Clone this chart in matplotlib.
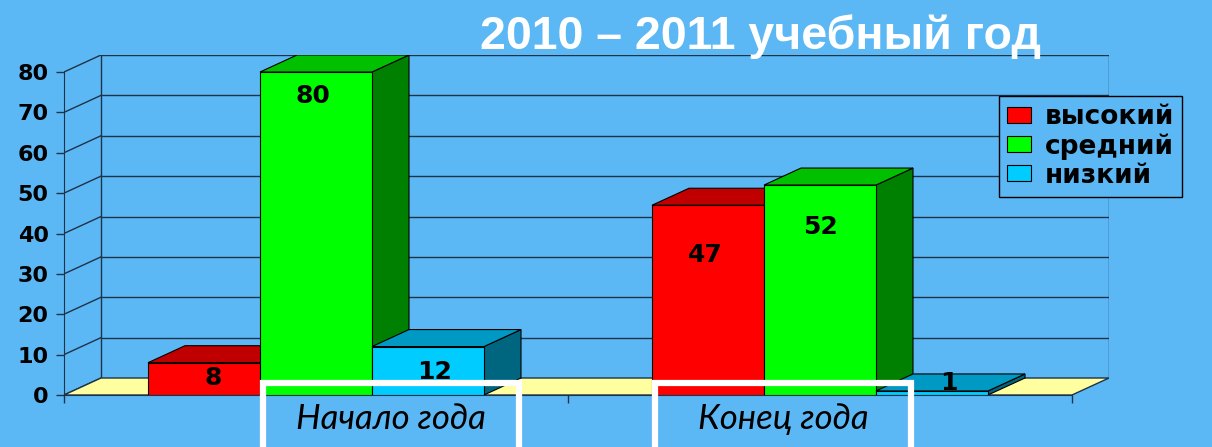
import matplotlib
matplotlib.use('Agg')
import matplotlib.pyplot as plt
from matplotlib.patches import Polygon, Rectangle, Patch

# ---- data ----
categories = ['Начало года', 'Конец года']
series_names = ['высокий', 'средний', 'низкий']
high = [8, 47]
mid = [80, 52]
low = [12, 1]
yticks = [0, 10, 20, 30, 40, 50, 60, 70, 80]
title = '2010 – 2011 учебный год'

# ---- style ----
W, H = 1212, 447
BG = '#5CB8F4'
GRID = '#1E3248'
front_cols = ['#FF0000', '#00FF00', '#00CCFF']
top_cols = ['#C00000', '#00C000', '#0099C4']
side_cols = ['#800000', '#008000', '#00667F']
DX = 37 / 504.0          # depth offset in x (category units)
DY = 17 / 4.0375         # depth offset in y (value units)
BAR_W = 112 / 504.0
# label placement (style): vertical offset below bar top and horizontal shift
label_dy = [[3.8, 12.3], [6.0, 10.4], [6.3, -2.0]]
label_dx = [[0.018, -0.006], [-0.006, 0.0], [0.014, 0.034]]
box_x = [(0.395, 0.903), (1.173, 1.681)]

fig = plt.figure(figsize=(W / 100, H / 100), dpi=100)
fig.patch.set_facecolor(BG)
ax = fig.add_axes([64 / W, 1 - 395 / H, (1109 - 64) / W, (395 - 55) / H])
ax.set_facecolor('none')
ymax = max(yticks)
ax.set_xlim(0, len(categories) + DX)
ax.set_ylim(0, ymax + DY)

ncat = len(categories)
# back wall + side wall grid
for v in yticks[1:]:
    ax.plot([DX, ncat + DX], [v + DY, v + DY], color=GRID, lw=1, zorder=1)
for v in yticks:
    ax.plot([0, DX], [v, v + DY], color=GRID, lw=1, zorder=1)
ax.plot([DX, DX], [DY, ymax + DY], color=GRID, lw=1, zorder=1)
ax.plot([ncat + DX, ncat + DX], [DY, ymax + DY], color=GRID, lw=1, zorder=1)

# floor
ax.add_patch(Polygon([(0, 0), (ncat, 0), (ncat + DX, DY), (DX, DY)],
                     closed=True, facecolor='#FFFFA0', edgecolor=GRID, lw=1, zorder=1.5))

# bars
values = [high, mid, low]
z = 2
for ci in range(ncat):
    center = ci + 0.5
    for si, vals in enumerate(values):
        h = vals[ci]
        x0 = center + (si - 1.5) * BAR_W
        x1 = x0 + BAR_W
        ax.add_patch(Polygon([(x1, 0), (x1 + DX, DY), (x1 + DX, h + DY), (x1, h)],
                             closed=True, facecolor=side_cols[si], edgecolor='black', lw=0.8, zorder=z))
        ax.add_patch(Polygon([(x0, h), (x1, h), (x1 + DX, h + DY), (x0 + DX, h + DY)],
                             closed=True, facecolor=top_cols[si], edgecolor='black', lw=0.8, zorder=z))
        ax.add_patch(Polygon([(x0, 0), (x1, 0), (x1, h), (x0, h)],
                             closed=True, facecolor=front_cols[si], edgecolor='black', lw=0.8, zorder=z))
        ax.text((x0 + x1) / 2 + label_dx[si][ci], h - label_dy[si][ci], str(h),
                ha='center', va='center', fontsize=18, fontweight='bold',
                family='DejaVu Sans', color='black', zorder=z + 0.5)
        z += 1

# axes spines / ticks
for s in ['top', 'right']:
    ax.spines[s].set_visible(False)
ax.spines['left'].set_bounds(0, ymax)
ax.spines['bottom'].set_bounds(0, ncat)
ax.spines['left'].set_color(GRID)
ax.spines['bottom'].set_color(GRID)
ax.spines['left'].set_zorder(50)
ax.set_yticks(yticks)
ax.set_yticklabels([str(t) for t in yticks], fontsize=16, fontweight='bold', family='DejaVu Sans')
ax.set_xticks(range(ncat + 1))
ax.set_xticklabels([''] * (ncat + 1))
ax.tick_params(axis='y', length=6, width=1, color=GRID, pad=5)
ax.tick_params(axis='x', length=6, width=1, color=GRID)

# category labels in white boxes
for ci, cat in enumerate(categories):
    bx0, bx1 = box_x[ci]
    ax.add_patch(Rectangle((bx0, -20), bx1 - bx0, 23.0, facecolor='none', edgecolor='white',
                           lw=4.5, clip_on=False, zorder=80))
    ax.text((bx0 + bx1) / 2, -5.9, cat, ha='center', va='center', fontsize=25,
            style='italic', family='Lato', color='black', clip_on=False, zorder=81)

# title
fig.text(760 / W, 1 - 37 / H, title, ha='center', va='center', fontsize=33.5,
         fontweight='bold', family='Liberation Sans', color='white')

# legend
handles = [Patch(facecolor=c, edgecolor='black', lw=0.8) for c in front_cols]
leg = fig.legend(handles, series_names, loc='upper left', bbox_to_anchor=(999 / W, 1 - 96 / H),
                 frameon=True, fancybox=False, edgecolor='black', facecolor=BG, framealpha=1,
                 prop={'family': 'DejaVu Sans', 'weight': 'bold', 'size': 19},
                 handlelength=0.92, handleheight=0.55, handletextpad=0.5, labelspacing=0.12,
                 borderpad=0.3, borderaxespad=0)
leg.get_frame().set_linewidth(1)

fig.savefig('out.png', dpi=100, facecolor=BG)
